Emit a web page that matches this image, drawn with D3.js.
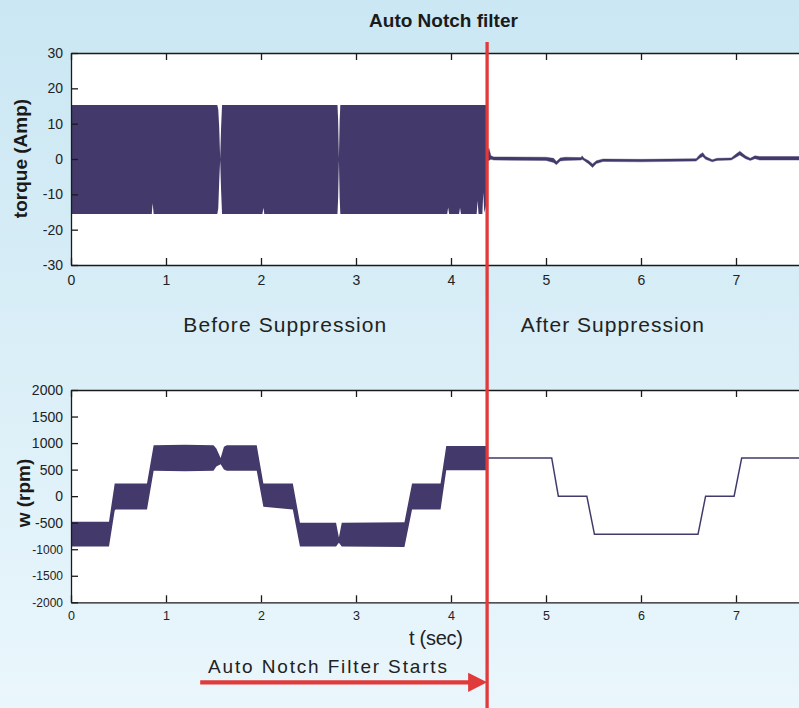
<!DOCTYPE html>
<html>
<head>
<meta charset="utf-8">
<title>Auto Notch filter</title>
<script src="https://d3js.org/d3.v7.min.js"></script>
<style>
  body { margin: 0; }
  svg { display: block; font-family: "Liberation Sans", Arial, sans-serif; }
  .axis path, .axis line { stroke: #1a1a1a; stroke-width: 1.3; }
  .axis text { fill: #222; font-family: "Liberation Sans", Arial, sans-serif; }
</style>
</head>
<body>
<svg id="chart" width="799" height="708"></svg>
<script>
// time ticks shared by both plots
var timeTicks = [0, 1, 2, 3, 4, 5, 6, 7];
var torqueTicks = [30, 20, 10, 0, -10, -20, -30];
var speedTicks = [2000, 1500, 1000, 500, 0, -500, -1000, -1500, -2000];

// filter switch-on time (sec) and arrow tail time
var filterStart = 4.38;
var arrowFrom = 1.36;

// torque before suppression: envelope of the oscillation [t, upper, lower]
var torqueBefore = [
  [0.00, 15.3, -15.6], [0.85, 15.3, -15.6], [0.86, 15.3, -12.5], [0.87, 15.3, -15.6],
  [1.54, 15.3, -15.6], [1.55, 14.0, -14.0], [1.56, 9.0, -6.4], [1.57, 0.3, -0.3],
  [1.58, 9.0, -9.0], [1.59, 15.3, -15.6],
  [2.015, 15.3, -15.6], [2.025, 15.3, -13.8], [2.035, 15.3, -15.6],
  [2.805, 15.3, -15.6], [2.812, 11.0, -11.0], [2.82, 0.3, -0.3], [2.828, 11.0, -11.0], [2.835, 15.3, -15.6],
  [3.96, 15.3, -15.6], [3.97, 15.3, -13.7], [3.98, 15.3, -15.6],
  [4.085, 15.3, -15.6], [4.095, 15.3, -13.8], [4.105, 15.3, -15.6],
  [4.27, 15.3, -15.6], [4.28, 15.3, -11.8], [4.29, 15.3, -15.6],
  [4.33, 15.3, -15.6], [4.34, 15.3, -9.5], [4.35, 15.3, -15.2], [4.37, 15.3, -13.0]
];

// torque after suppression [t, upper, lower]
var torqueAfter = [
  [4.37, 1.0, -0.4], [4.40, 3.0, -0.4], [4.42, 0.9, -0.1], [4.45, 0.6, -0.3],
  [5.00, 0.5, -0.4], [5.08, 0.2, -1.0], [5.11, -0.7, -1.6], [5.15, 0.3, -0.6],
  [5.20, 0.5, -0.4], [5.37, 0.4, -0.3], [5.38, 0.9, -0.1], [5.40, 0.2, -0.4],
  [5.45, -0.5, -1.4], [5.49, -1.4, -2.4], [5.53, -0.5, -1.3], [5.60, 0.0, -0.7],
  [6.00, -0.1, -0.8], [6.58, 0.1, -0.6], [6.62, 1.3, 0.3], [6.65, 1.8, 0.7],
  [6.68, 0.7, -0.1], [6.75, -0.2, -0.8], [6.80, 0.2, -0.4], [6.95, 0.3, -0.3],
  [7.00, 1.4, 0.5], [7.04, 2.2, 1.1], [7.10, 0.9, 0.1], [7.15, 0.2, -0.4],
  [7.20, 0.9, 0.1], [7.25, 0.7, -0.3], [8.00, 0.7, -0.3]
];

// speed before suppression [t, upper, lower]
var speedBefore = [
  [0.00, -480, -950], [0.40, -480, -950], [0.46, 240, -270], [0.47, 240, -250],
  [0.80, 240, -250], [0.87, 960, 480], [1.20, 970, 470], [1.50, 960, 480],
  [1.53, 900, 560], [1.575, 720, 600], [1.61, 930, 500], [1.64, 960, 480],
  [1.955, 960, 480], [2.025, 240, -200], [2.335, 240, -250], [2.41, -500, -950],
  [2.79, -500, -950], [2.82, -780, -880], [2.85, -500, -950], [3.51, -490, -956],
  [3.59, 240, -250], [3.89, 240, -250], [3.95, 945, 490], [4.37, 945, 490]
];

// speed after suppression [t, rpm]
var speedAfter = [
  [4.38, 720], [5.06, 720], [5.13, 0], [5.43, 0], [5.51, -720],
  [6.60, -720], [6.68, 0], [6.98, 0], [7.06, 720], [8.00, 720]
];

var svg = d3.select("#chart");
var plotLeft = 71, plotRight = 799;
var bandColor = "#433a6b", redColor = "#e03a3a";

// background gradient
var defs = svg.append("defs");
var grad = defs.append("linearGradient")
    .attr("id", "bg").attr("x1", 0).attr("y1", 0).attr("x2", 0).attr("y2", 1);
grad.append("stop").attr("offset", "0%").attr("stop-color", "#cae7f3");
grad.append("stop").attr("offset", "100%").attr("stop-color", "#eaf6fc");
svg.append("rect").attr("width", 799).attr("height", 708).attr("fill", "url(#bg)");

var x = d3.scaleLinear().domain([0, 8]).range([plotLeft, plotLeft + 95 * 8]);
var plain = function(d) { return String(d); };

function panel(id, top, bottom, yDomain, yTicks, yFont) {
  var y = d3.scaleLinear().domain(yDomain).range([bottom, top]);

  defs.append("clipPath").attr("id", id)
    .append("rect").attr("x", plotLeft).attr("y", top)
    .attr("width", plotRight - plotLeft).attr("height", bottom - top);

  svg.append("rect")
    .attr("x", plotLeft).attr("y", top)
    .attr("width", plotRight - plotLeft).attr("height", bottom - top)
    .attr("fill", "#fff");

  var g = svg.append("g").attr("clip-path", "url(#" + id + ")");
  return { y: y, g: g, top: top, bottom: bottom, yTicks: yTicks, yFont: yFont };
}

function drawAxes(p, xFont, xPad) {
  svg.append("g").attr("class", "axis")
    .attr("transform", "translate(0," + p.bottom + ")")
    .call(d3.axisBottom(x).tickValues(timeTicks).tickSize(-7).tickSizeOuter(0)
      .tickPadding(xPad).tickFormat(plain))
    .selectAll("text").style("font-size", xFont + "px");

  svg.append("g").attr("class", "axis")
    .attr("transform", "translate(0," + p.top + ")")
    .call(d3.axisTop(x).tickValues(timeTicks).tickSize(-7).tickSizeOuter(0).tickFormat(""));

  svg.append("g").attr("class", "axis")
    .attr("transform", "translate(" + plotLeft + ",0)")
    .call(d3.axisLeft(p.y).tickValues(p.yTicks).tickSize(-7).tickSizeOuter(0)
      .tickPadding(8).tickFormat(plain))
    .selectAll("text").style("font-size", function(d) { return p.yFont(d) + "px"; });
}

var band = function(y) {
  return d3.area().x(function(d) { return x(d[0]); })
    .y0(function(d) { return y(d[2]); })
    .y1(function(d) { return y(d[1]); });
};

// torque panel
var torquePanel = panel("clipTop", 53, 265, [-30, 30], torqueTicks, function() { return 14; });
torquePanel.g.append("path").datum(torqueBefore).attr("fill", bandColor).attr("d", band(torquePanel.y));
torquePanel.g.append("path").datum(torqueAfter).attr("fill", bandColor)
  .attr("stroke", bandColor).attr("stroke-width", 0.4).attr("d", band(torquePanel.y));
drawAxes(torquePanel, 14, 10);

// speed panel
var speedPanel = panel("clipBot", 390, 602.3, [-2000, 2000], speedTicks,
  function(d) { return d <= -1000 ? 12 : 14; });
speedPanel.g.append("path").datum(speedBefore).attr("fill", bandColor).attr("d", band(speedPanel.y));
speedPanel.g.append("path").datum(speedAfter).attr("fill", "none")
  .attr("stroke", bandColor).attr("stroke-width", 1.5)
  .attr("d", d3.line().x(function(d) { return x(d[0]); }).y(function(d) { return speedPanel.y(d[1]); }));
drawAxes(speedPanel, 12.5, 8.5);

// labels
svg.append("text").attr("x", 443.5).attr("y", 26.7).attr("text-anchor", "middle")
  .style("font-weight", "bold").style("font-size", "19px").attr("fill", "#1a1a1a")
  .text("Auto Notch filter");

svg.append("text").attr("transform", "translate(27,158.5) rotate(-90)")
  .attr("text-anchor", "middle").style("font-weight", "bold").style("font-size", "19px")
  .attr("fill", "#1a1a1a").text("torque (Amp)");

svg.append("text").attr("transform", "translate(29.5,493) rotate(-90)")
  .attr("text-anchor", "middle").style("font-weight", "bold").style("font-size", "19px")
  .attr("fill", "#1a1a1a").text("w (rpm)");

svg.append("text").attr("x", 183.3).attr("y", 331.7)
  .attr("textLength", 203).attr("lengthAdjust", "spacing")
  .style("font-size", "21px").attr("fill", "#222").text("Before Suppression");

svg.append("text").attr("x", 520.7).attr("y", 331.7)
  .attr("textLength", 183.3).attr("lengthAdjust", "spacing")
  .style("font-size", "21px").attr("fill", "#222").text("After Suppression");

svg.append("text").attr("x", 409).attr("y", 645)
  .attr("textLength", 54).attr("lengthAdjust", "spacing")
  .style("font-size", "20px").attr("fill", "#222").text("t (sec)");

svg.append("text").attr("x", 208).attr("y", 673.3)
  .attr("textLength", 239).attr("lengthAdjust", "spacing")
  .style("font-size", "19px").attr("fill", "#222").text("Auto Notch Filter Starts");

// red marker line and arrow
var xs = x(filterStart);
svg.append("line").attr("x1", xs).attr("x2", xs).attr("y1", 42).attr("y2", 708)
  .attr("stroke", redColor).attr("stroke-width", 3.3);

svg.append("line").attr("x1", x(arrowFrom)).attr("x2", xs - 18).attr("y1", 682.3).attr("y2", 682.3)
  .attr("stroke", redColor).attr("stroke-width", 4.2);
svg.append("path")
  .attr("d", "M" + (xs - 19) + "," + 672.7 + "L" + xs + "," + 682.3 + "L" + (xs - 19) + "," + 691.9 + "Z")
  .attr("fill", redColor);
</script>
</body>
</html>
